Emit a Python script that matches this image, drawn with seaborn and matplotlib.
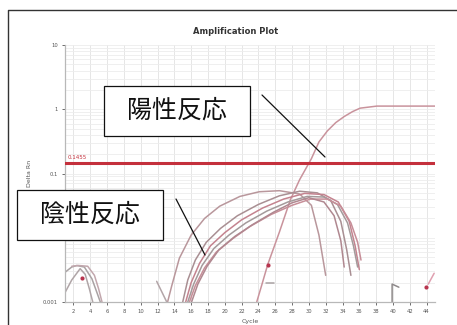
import pandas as pd
import matplotlib
matplotlib.use("Agg")
import matplotlib.pyplot as plt
import seaborn as sns
from matplotlib.patches import Rectangle
from matplotlib.lines import Line2D

sns.set_theme(style="white")
plt.rcParams['font.family'] = ['DejaVu Sans']

# ---- amplification data (cycle, delta Rn) ----
pos_cycle = [23.8, 24.4, 25.1, 26.5, 27.8, 28.9, 30.3, 31.2, 32.2, 33.2, 34.2, 35.2, 36.1, 38.1, 45.0]
pos_rn = [0.001, 0.00184, 0.0038, 0.0123, 0.039, 0.080, 0.17, 0.31, 0.46, 0.62, 0.77, 0.92, 1.04, 1.12, 1.12]

neg1_cycle = [13.2, 13.7, 14.6, 16.0, 17.6, 19.4, 21.8, 24.1, 26.5, 28.9, 30.3, 31.2, 32.0]
neg1_rn = [0.001, 0.0018, 0.0048, 0.011, 0.020, 0.031, 0.044, 0.052, 0.054, 0.048, 0.032, 0.011, 0.0026]

neg2_cycle = [15.0, 15.6, 16.5, 17.8, 19.5, 21.5, 24.0, 26.5, 28.9, 31.0, 32.6, 33.8, 34.5, 35.0]
neg2_rn = [0.001, 0.0022, 0.0045, 0.0085, 0.014, 0.022, 0.033, 0.045, 0.053, 0.050, 0.038, 0.018, 0.0065, 0.0026]

neg3_cycle = [15.35, 16.0, 17.0, 18.3, 20.0, 22.0, 24.5, 27.0, 29.5, 31.8, 33.5, 34.8, 35.5, 36.0]
neg3_rn = [0.001, 0.002, 0.004, 0.0075, 0.012, 0.019, 0.029, 0.040, 0.049, 0.047, 0.036, 0.018, 0.0075, 0.0032]

neg4_cycle = [15.6, 16.3, 17.3, 18.7, 20.5, 22.5, 25.0, 27.5, 29.8, 31.8, 33.4, 34.6, 35.3, 35.8]
neg4_rn = [0.001, 0.0019, 0.0037, 0.0068, 0.011, 0.017, 0.026, 0.036, 0.044, 0.043, 0.033, 0.017, 0.0075, 0.0035]

neg5_cycle = [15.8, 16.5, 17.6, 19.0, 21.0, 23.0, 25.5, 28.0, 30.2, 32.2, 33.8, 35.0, 35.8, 36.2]
neg5_rn = [0.001, 0.0018, 0.0034, 0.006, 0.0098, 0.015, 0.023, 0.032, 0.040, 0.040, 0.031, 0.017, 0.0085, 0.0045]

neg6_cycle = [16.05, 16.8, 17.9, 19.3, 21.2, 23.3, 25.8, 28.0, 30.0, 31.8, 33.0, 33.8, 34.2]
neg6_rn = [0.001, 0.0019, 0.0036, 0.0065, 0.0105, 0.016, 0.025, 0.035, 0.042, 0.036, 0.022, 0.009, 0.0035]

neg7_cycle = [11.9, 13.1]
neg7_rn = [0.0021, 0.001]

low1_cycle = [1.0, 1.8, 2.4, 3.3, 4.2, 4.8, 5.2]
low1_rn = [0.0029, 0.0035, 0.0037, 0.0035, 0.0023, 0.0014, 0.001]
low2_cycle = [1.0, 1.8, 2.8, 3.4, 3.9, 4.3]
low2_rn = [0.0014, 0.0022, 0.0033, 0.0027, 0.0016, 0.001]
low3_cycle = [1.8, 2.6, 3.7, 4.5, 5.0, 5.4]
low3_rn = [0.0036, 0.0037, 0.0036, 0.0026, 0.0016, 0.001]
low4_cycle = [24.9, 25.9]
low4_rn = [0.0020, 0.0020]
low5_cycle = [39.9, 39.9, 40.7]
low5_rn = [0.001, 0.0019, 0.0017]
low6_cycle = [44.2, 44.9]
low6_rn = [0.0019, 0.0028]

# sample points highlighted with a dot
dot_cycle = [25.1, 3.0, 43.9]
dot_rn = [0.0038, 0.0024, 0.0017]

threshold = 0.1455
threshold_label = "0.1455"

y_ticks = [0.001, 0.01, 0.1, 1, 10]
y_labels = ["0.001", "0.01", "0.1", "1", "10"]
x_ticks = list(range(2, 45, 2))

wells = {
    "pos": (pos_cycle, pos_rn, "#c9939c"),
    "neg1": (neg1_cycle, neg1_rn, "#b9979c"),
    "neg2": (neg2_cycle, neg2_rn, "#a98f93"),
    "neg3": (neg3_cycle, neg3_rn, "#c4838f"),
    "neg4": (neg4_cycle, neg4_rn, "#a49a9b"),
    "neg5": (neg5_cycle, neg5_rn, "#c78e98"),
    "neg6": (neg6_cycle, neg6_rn, "#b08890"),
    "neg7": (neg7_cycle, neg7_rn, "#b3a5a8"),
    "low1": (low1_cycle, low1_rn, "#a9a2a3"),
    "low2": (low2_cycle, low2_rn, "#b0a5a7"),
    "low3": (low3_cycle, low3_rn, "#c2a7ad"),
    "low4": (low4_cycle, low4_rn, "#a9a2a3"),
    "low5": (low5_cycle, low5_rn, "#8f8a8b"),
    "low6": (low6_cycle, low6_rn, "#e0a0b0"),
}

frames = []
for name, (cyc, rn, _) in wells.items():
    frames.append(pd.DataFrame({"Cycle": cyc, "Delta Rn": rn, "well": name}))
df = pd.concat(frames, ignore_index=True)
palette = {name: spec[2] for name, spec in wells.items()}

W, H = 457, 325
fig = plt.figure(figsize=(W / 100, H / 100), dpi=100)
fig.patch.set_facecolor("white")
ax = fig.add_axes([65 / W, 1 - 302 / H, 370 / W, 257 / H])

ax.set_yscale("log")
ax.set_xlim(1, 45)
ax.set_ylim(0.001, 10)

# faint grid
ax.grid(True, which="major", axis="x", color="#e6e6e6", lw=0.7)
ax.grid(True, which="both", axis="y", color="#ececec", lw=0.6)
ax.set_axisbelow(True)

sns.lineplot(data=df, x="Cycle", y="Delta Rn", hue="well", units="well",
             estimator=None, sort=False, palette=palette, lw=1.1,
             legend=False, ax=ax)
sns.scatterplot(x=dot_cycle, y=dot_rn, color="#b8354f", s=9, linewidth=0,
                ax=ax, zorder=4)

ax.axhline(threshold, color="#c4303c", lw=2.2, zorder=5)
ax.text(1.3, threshold * 1.12, threshold_label, color="#c4303c",
        fontsize=4, va="bottom", ha="left")

ax.set_xticks(x_ticks)
ax.set_xticklabels([str(t) for t in x_ticks])
ax.set_yticks(y_ticks)
ax.set_yticklabels(y_labels)
ax.yaxis.set_minor_formatter(matplotlib.ticker.NullFormatter())
ax.tick_params(axis="both", which="major", labelsize=3.8, colors="#555555",
               length=2, width=0.6, pad=3, left=True, bottom=True)
ax.tick_params(axis="y", which="minor", length=0)

for s in ["top", "right"]:
    ax.spines[s].set_visible(False)
for s in ["left", "bottom"]:
    ax.spines[s].set_color("#b8b8b8")
    ax.spines[s].set_linewidth(0.9)

ax.set_xlabel("Cycle", fontsize=4.5, color="#555555", labelpad=4)
ax.set_ylabel("Delta Rn", fontsize=4.5, color="#555555", labelpad=8)
ax.set_title("Amplification Plot", fontsize=6, fontweight="bold",
             color="#333333", pad=8, x=0.46)

# ---- figure-level framing and callouts ----
def fxy(px, py):
    return px / W, 1 - py / H

frame = Line2D([8 / W, 8 / W, 1.0], [0.0, 1 - 10 / H, 1 - 10 / H],
               transform=fig.transFigure, color="#333333", lw=1.0)
fig.add_artist(frame)

cjk = ["Noto Sans CJK JP", "DejaVu Sans"]
for (x0, y0, x1, y1), label in [((104, 86, 250, 136), "陽性反応"),
                                ((17, 190, 163, 240), "陰性反応")]:
    bx, by = fxy(x0, y1)
    box = Rectangle((bx, by), (x1 - x0) / W, (y1 - y0) / H,
                    transform=fig.transFigure, facecolor="white",
                    edgecolor="#111111", lw=0.9, zorder=10)
    fig.add_artist(box)
    tx, ty = fxy((x0 + x1) / 2, (y0 + y1) / 2)
    fig.text(tx, ty, label, family=cjk, fontsize=18, color="#111111",
             ha="center", va="center", zorder=11)

for (x0, y0, x1, y1) in [(262, 95, 325, 157), (176, 199, 205, 255)]:
    a, b = fxy(x0, y0)
    c, d = fxy(x1, y1)
    fig.add_artist(Line2D([a, c], [b, d], transform=fig.transFigure,
                          color="#111111", lw=0.9, zorder=12))

fig.savefig("out.png", dpi=100, facecolor="white")
